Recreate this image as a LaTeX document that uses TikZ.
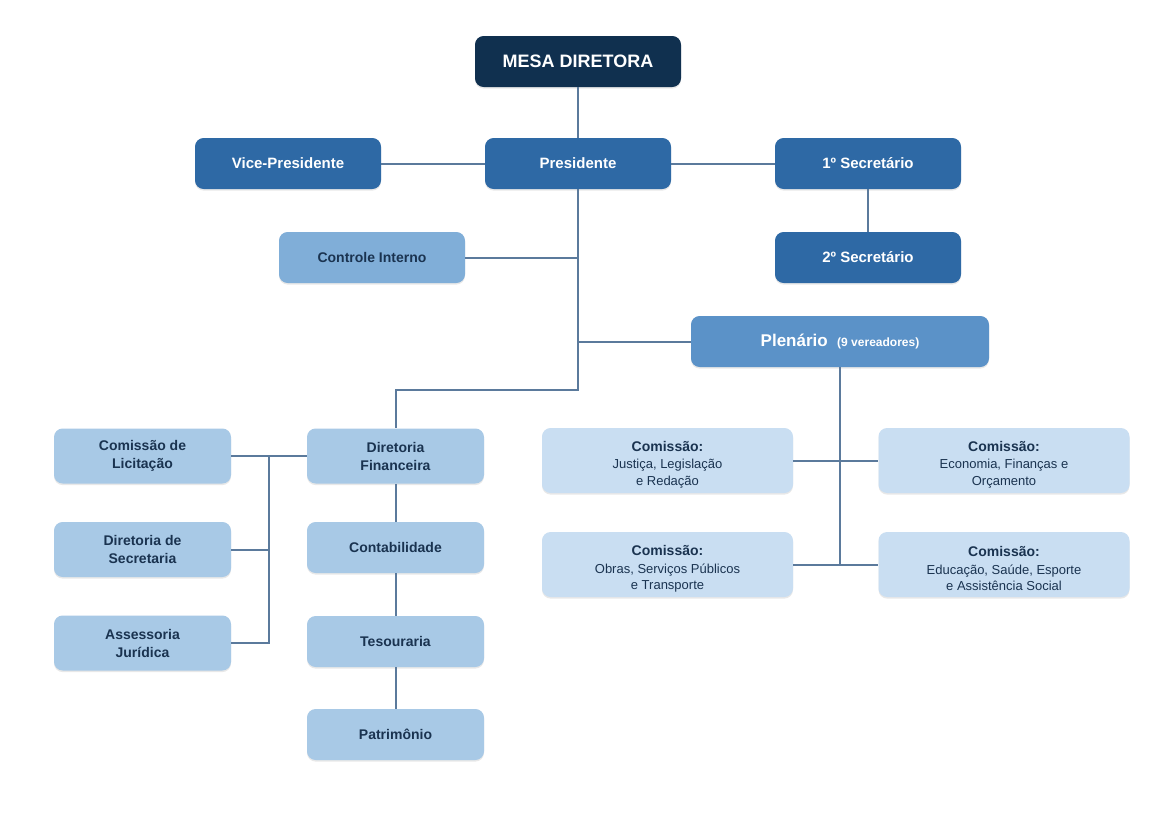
\documentclass[tikz,border=0pt]{standalone}
\usepackage{fontspec}
\setmainfont{Liberation Sans}
\usetikzlibrary{positioning, shadows}
\definecolor{BoardNavy}{HTML}{10304F}
\definecolor{SeatBlue}{HTML}{2E69A5}
\definecolor{ControlBlue}{HTML}{80AED8}
\definecolor{PlenaryBlue}{HTML}{5B92C8}
\definecolor{UnitBlue}{HTML}{A8C9E6}
\definecolor{CommissionBlue}{HTML}{C9DEF2}
\definecolor{InkNavy}{HTML}{1A3350}
\definecolor{LinkSlate}{HTML}{5B7A9C}
\newcommand{\comtitle}{\rule{0pt}{14pt}{\fontsize{10.5}{12.4}\selectfont\bfseries Comissão:}}

\begin{document}
\begin{tikzpicture}[
        x=0.75pt, y=-0.75pt,
        box/.style={
            rectangle, rounded corners=6.5pt, align=center, inner sep=2pt,
            drop shadow={shadow xshift=0pt, shadow yshift=-1.2pt, opacity=0.09, fill=black}
        },
        board/.style={box, fill=BoardNavy, text=white, minimum width=154.5pt,
            minimum height=38.25pt, font=\fontsize{13.5}{16}\selectfont\bfseries},
        seat/.style={box, fill=SeatBlue, text=white, minimum width=139.5pt,
            minimum height=38.25pt, font=\fontsize{11.25}{13.5}\selectfont\bfseries},
        control/.style={seat, fill=ControlBlue, text=InkNavy, font=\fontsize{10.5}{13}\selectfont\bfseries},
        plenary/.style={seat, fill=PlenaryBlue, minimum width=223.5pt, font=\fontsize{12.75}{15}\selectfont\bfseries},
        unit/.style={box, fill=UnitBlue, text=InkNavy, minimum width=132.75pt,
            minimum height=38.25pt, font=\fontsize{10.5}{13.5}\selectfont\bfseries},
        tallunit/.style={unit, minimum height=41.25pt},
        commission/.style={box, fill=CommissionBlue, text=InkNavy, minimum width=188.25pt,
            minimum height=48.75pt, font=\fontsize{9.75}{12.4}\selectfont},
        link/.style={line width=1.5pt, color=LinkSlate}
    ]

    \useasboundingbox[fill=white] (0,0) rectangle (1157,815);

    % Top of the board
    \node (mesa) [board] at (578, 61.5) {MESA DIRETORA};

    \node (pres) [seat] at (578, 163.5) {Presidente};
    \node (vice) [seat] at (288, 163.5) {Vice-Presidente};
    \node (sec1) [seat] at (868, 163.5) {1º Secretário};
    \node (sec2) [seat] at (868, 257.5) {2º Secretário};

    \node (ctrl) [control] at (372, 257.5) {Controle Interno};

    \node (plen) [plenary] at (840, 341.5) {Plenário~~{\fontsize{9}{11}\selectfont (9 vereadores)}};

    % Administration
    \node (dirfin) [tallunit] at (395.5, 456) {Diretoria\\Financeira};
    \node (contab) [unit] at (395.5, 547.5) {Contabilidade};
    \node (tesour) [unit] at (395.5, 641.5) {Tesouraria};
    \node (patrim) [unit] at (395.5, 734.5) {Patrimônio};

    \node (licit) [tallunit] at (142.5, 456) {Comissão de\\Licitação};
    \node (secret) [tallunit] at (142.5, 549.5) {Diretoria de\\Secretaria};
    \node (jurid) [tallunit] at (142.5, 643) {Assessoria\\Jurídica};

    % Standing commissions
    \node (comjus) [commission] at (667.5, 460.5) {\comtitle\\[0.8pt]Justiça, Legislação\\e Redação};
    \node (comeco) [commission] at (1004, 460.5) {\comtitle\\[0.8pt]Economia, Finanças e\\Orçamento};
    \node (comobr) [commission] at (667.5, 564.5) {\comtitle\\[0.8pt]Obras, Serviços Públicos\\e Transporte};
    \node (comedu) [commission] at (1004, 564.5) {\comtitle\\[0.8pt]Educação, Saúde, Esporte\\e Assistência Social};

    % Connectors
    \coordinate (trunk) at (578, 390);
    \coordinate (bus) at (269, 456);

    \draw [link] (mesa) -- (pres);
    \draw [link] (vice) -- (pres);
    \draw [link] (pres) -- (sec1);
    \draw [link] (sec1) -- (sec2);
    \draw [link] (pres.south) -- (trunk) -| (dirfin.north);
    \draw [link] (ctrl.east) -- (ctrl.east -| trunk);
    \draw [link] (plen.west) -- (plen.west -| trunk);

    \draw [link] (plen.south) -- (plen.south |- comobr.east);
    \draw [link] (comjus.east) -- (comeco.west);
    \draw [link] (comobr.east) -- (comedu.west);

    \draw [link] (dirfin) -- (contab);
    \draw [link] (contab) -- (tesour);
    \draw [link] (tesour) -- (patrim);

    \draw [link] (licit.east) -- (dirfin.west);
    \draw [link] (bus) |- (jurid.east);
    \draw [link] (secret.east) -- (secret.east -| bus);

\end{tikzpicture}
\end{document}
